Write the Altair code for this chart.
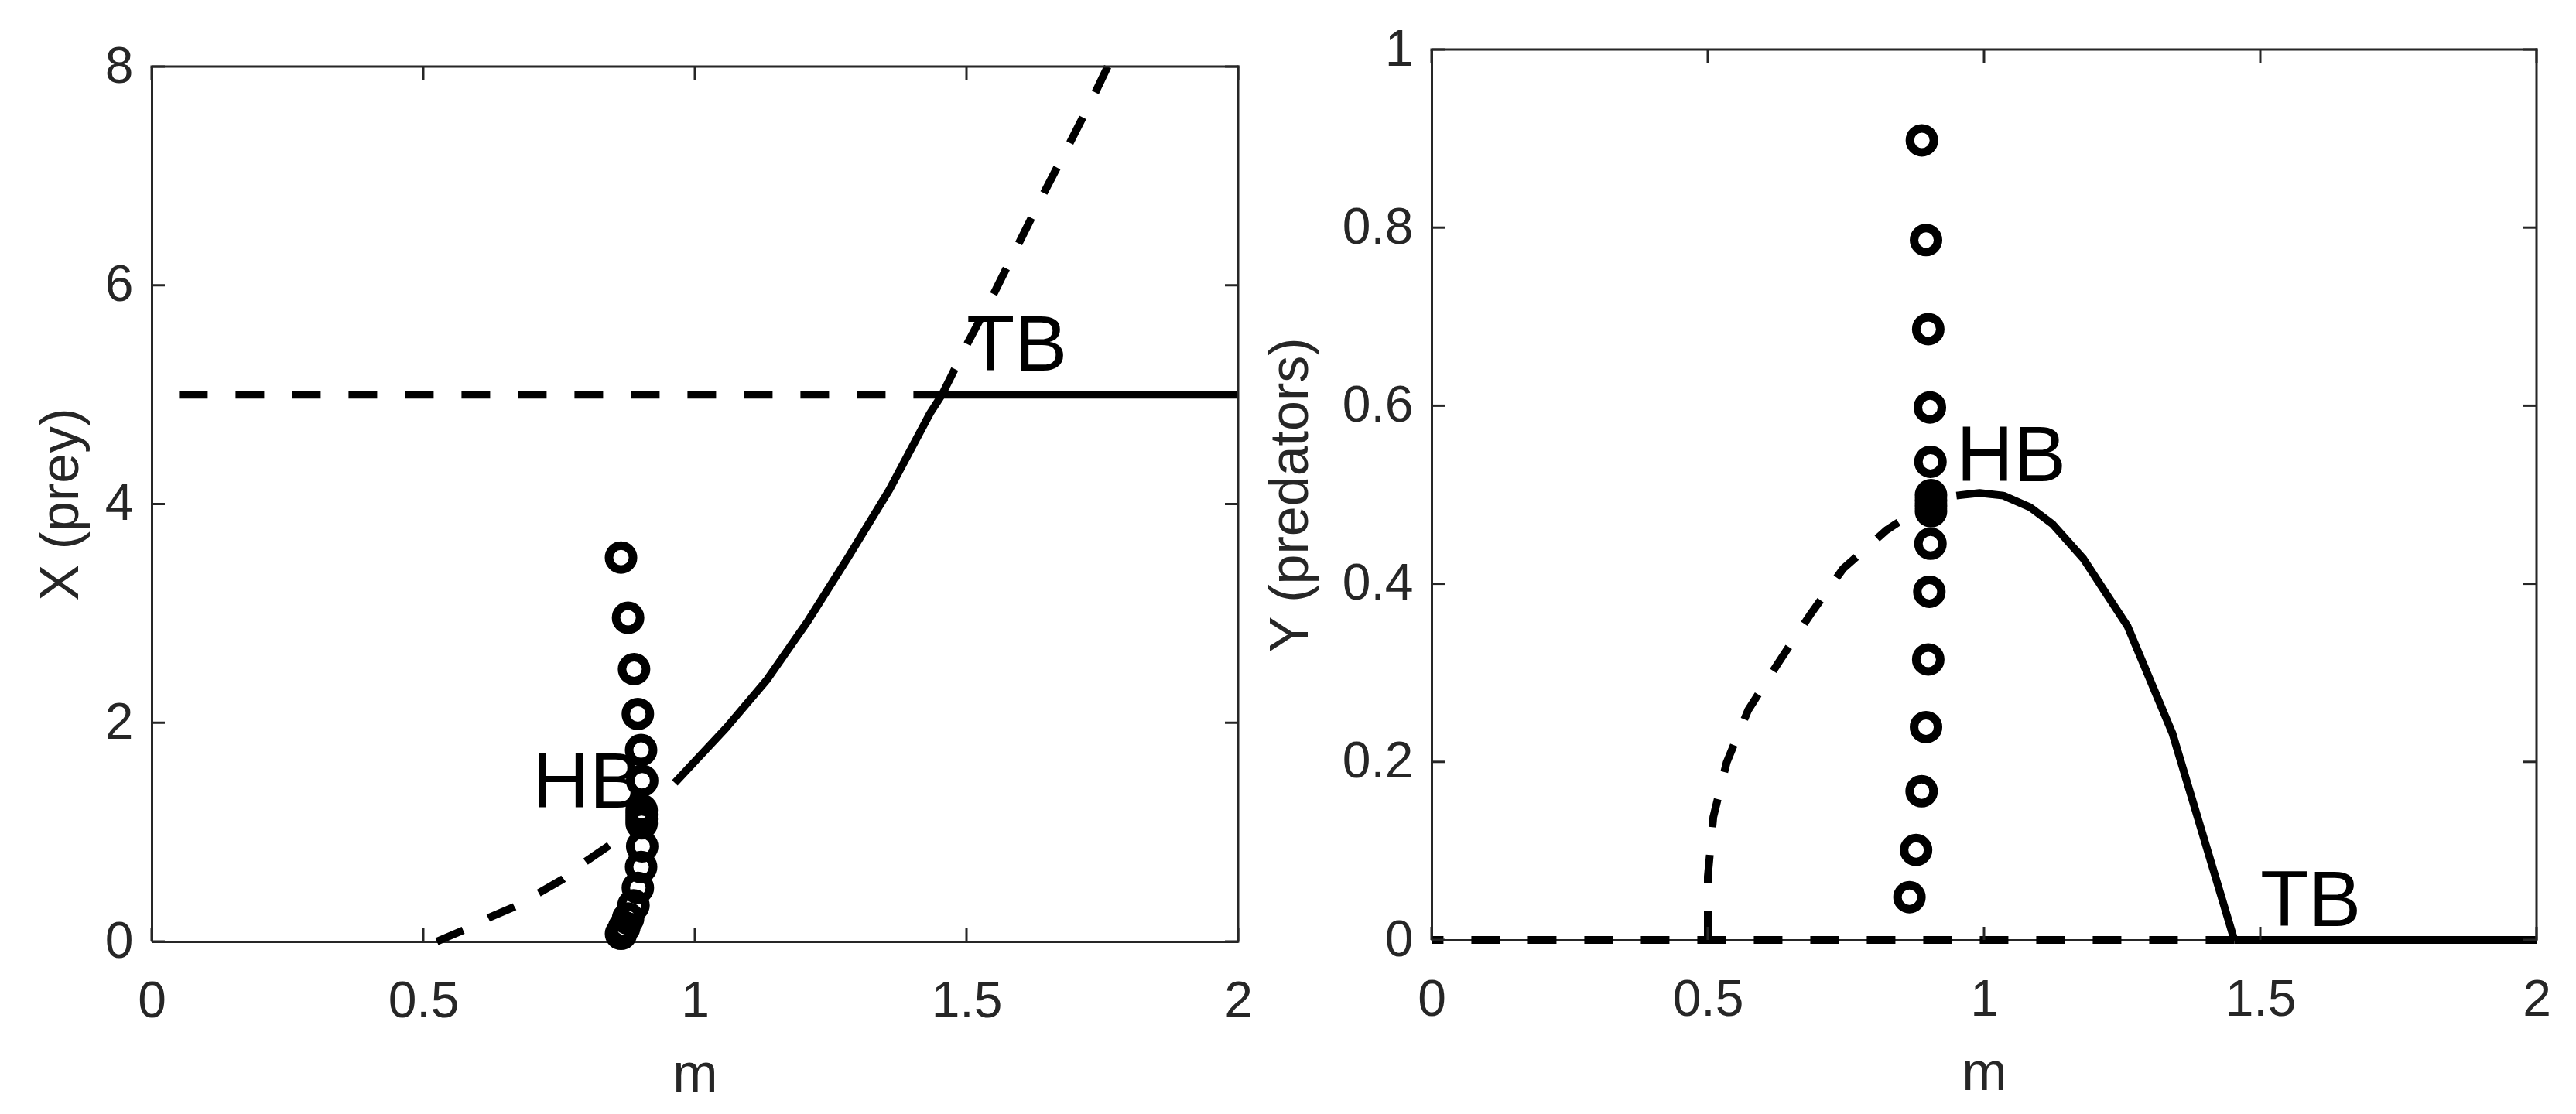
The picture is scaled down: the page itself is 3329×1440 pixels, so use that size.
import altair as alt
import pandas as pd

# ---------------- data ----------------
M_TICKS = [0, 0.5, 1, 1.5, 2]
X_TICKS = [0, 2, 4, 6, 8]
Y_TICKS = [0, 0.2, 0.4, 0.6, 0.8, 1]

# Left panel: prey X versus m
L_TRIV_DASH_M = [1.455, 0.0]          # X = K branch, unstable (drawn from TB to the left)
L_TRIV_DASH_X = [5.0, 5.0]
L_TRIV_SOLID_M = [1.455, 2.0]
L_TRIV_SOLID_X = [5.0, 5.0]
L_LOW_M = [0.525, 0.577, 0.622, 0.667, 0.715, 0.757, 0.800, 0.843]
L_LOW_X = [0.0, 0.11, 0.22, 0.316, 0.45, 0.57, 0.735, 0.88]
L_MID_M = [0.963, 1.058, 1.133, 1.208, 1.283, 1.358, 1.433, 1.455]
L_MID_X = [1.45, 1.955, 2.395, 2.93, 3.52, 4.13, 4.83, 5.0]
L_UP_M = [1.455, 1.502, 1.550, 1.595, 1.641, 1.688, 1.735, 1.760]
L_UP_X = [5.0, 5.47, 5.92, 6.37, 6.83, 7.28, 7.74, 8.0]
L_CYC_M = [0.864, 0.877, 0.888, 0.895, 0.901, 0.903, 0.902, 0.902, 0.902, 0.902,
           0.903, 0.901, 0.895, 0.887, 0.877, 0.870, 0.864]
L_CYC_X = [3.51, 2.96, 2.49, 2.08, 1.75, 1.47, 1.20, 1.16, 1.12, 1.08,
           0.87, 0.68, 0.49, 0.33, 0.21, 0.13, 0.07]
L_LABELS = ["HB", "TB"]
L_LAB_M = [0.701, 1.50]
L_LAB_X = [1.224, 5.22]

# Right panel: predators Y versus m
R_TRIV_DASH_M = [1.453, 0.0]
R_TRIV_DASH_Y = [0.0, 0.0]
R_TRIV_SOLID_M = [1.453, 2.0]
R_TRIV_SOLID_Y = [0.0, 0.0]
R_LOW_M = [0.500, 0.500, 0.510, 0.534, 0.573, 0.629, 0.685, 0.745, 0.823, 0.845]
R_LOW_Y = [0.0, 0.071, 0.138, 0.199, 0.258, 0.3125, 0.365, 0.417, 0.460, 0.469]
R_MID_M = [0.950, 0.992, 1.035, 1.083, 1.124, 1.180, 1.260, 1.341, 1.453]
R_MID_Y = [0.499, 0.502, 0.499, 0.486, 0.467, 0.428, 0.352, 0.232, 0.0]
R_CYC_M = [0.8875, 0.895, 0.899, 0.902, 0.903, 0.904, 0.904, 0.904, 0.904,
           0.903, 0.901, 0.899, 0.895, 0.887, 0.877, 0.865]
R_CYC_Y = [0.898, 0.786, 0.686, 0.598, 0.537, 0.4995, 0.4935, 0.4875, 0.4815,
           0.445, 0.391, 0.315, 0.239, 0.167, 0.101, 0.048]
R_LABELS = ["HB", "TB"]
R_LAB_M = [0.950, 1.50]
R_LAB_Y = [0.515, 0.016]

# ---------------- styling ----------------
FONT = "Liberation Sans"
AX = "#262626"
LW = 10
DASH = [37, 36]


def line_layer(ms, vs, xs, ys, xa, ya, dashed):
    df = pd.DataFrame({"m": ms, "v": vs, "i": list(range(len(ms)))})
    kw = dict(color="black", strokeWidth=LW, strokeCap="butt", strokeJoin="round")
    if dashed:
        kw["strokeDash"] = DASH
    return alt.Chart(df).mark_line(**kw).encode(
        x=alt.X("m:Q", scale=xs, axis=xa),
        y=alt.Y("v:Q", scale=ys, axis=ya),
        order=alt.Order("i:Q"),
    )


def panel(width, height, xs, ys, xa, ya, segs, cyc_m, cyc_v,
          labels, lab_m, lab_v, y_ticks):
    layers = [line_layer(ms, vs, xs, ys, xa, ya, d) for ms, vs, d in segs]

    def enc(ch):
        return ch.encode(x=alt.X("m:Q", scale=xs, axis=xa),
                         y=alt.Y("v:Q", scale=ys, axis=ya))

    circles = enc(alt.Chart(pd.DataFrame({"m": cyc_m, "v": cyc_v})).mark_point(
        shape="circle", filled=False, size=961, strokeWidth=11,
        color="black", opacity=1))
    texts = alt.Chart(pd.DataFrame({"m": lab_m, "v": lab_v, "t": labels})).mark_text(
        align="left", baseline="alphabetic", font=FONT, fontSize=102,
        color="black").encode(
        x=alt.X("m:Q", scale=xs, axis=xa),
        y=alt.Y("v:Q", scale=ys, axis=ya),
        text="t:N")

    x0, x1 = M_TICKS[0], M_TICKS[-1]
    y0, y1 = y_ticks[0], y_ticks[-1]
    top = alt.Chart(pd.DataFrame({"m": [x0], "m2": [x1], "v": [y1]})).mark_rule(
        color=AX, strokeWidth=3, strokeCap="square").encode(
        x=alt.X("m:Q", scale=xs, axis=xa), x2="m2:Q",
        y=alt.Y("v:Q", scale=ys, axis=ya))
    right = alt.Chart(pd.DataFrame({"m": [x1], "v": [y0], "v2": [y1]})).mark_rule(
        color=AX, strokeWidth=3, strokeCap="square").encode(
        x=alt.X("m:Q", scale=xs, axis=xa),
        y=alt.Y("v:Q", scale=ys, axis=ya), y2="v2:Q")

    nx, ny = len(M_TICKS), len(y_ticks)
    tick_kw = dict(size=17, thickness=3, color=AX, opacity=1)
    tb = enc(alt.Chart(pd.DataFrame({"m": M_TICKS, "v": [y0] * nx})).mark_tick(
        orient="vertical", yOffset=-8.5, **tick_kw))
    tt = enc(alt.Chart(pd.DataFrame({"m": M_TICKS, "v": [y1] * nx})).mark_tick(
        orient="vertical", yOffset=8.5, **tick_kw))
    tl = enc(alt.Chart(pd.DataFrame({"m": [x0] * ny, "v": y_ticks})).mark_tick(
        orient="horizontal", xOffset=8.5, **tick_kw))
    tr = enc(alt.Chart(pd.DataFrame({"m": [x1] * ny, "v": y_ticks})).mark_tick(
        orient="horizontal", xOffset=-8.5, **tick_kw))

    return alt.layer(*layers, circles, texts, top, right, tb, tt, tl, tr).properties(
        width=width, height=height)


# left panel
LW_W, LW_H = 1404, 1153
xs_l = alt.Scale(domain=[M_TICKS[0], M_TICKS[-1]], nice=False, zero=False)
ys_l = alt.Scale(domain=[X_TICKS[0], X_TICKS[-1]], nice=False, zero=False,
                 range=[LW_H, 22])
xa_l = alt.Axis(title="m", values=M_TICKS, format=".1~f", labelPadding=45, titlePadding=28)
ya_l = alt.Axis(title="X (prey)", values=X_TICKS, format="d", labelPadding=24, titlePadding=20)

left = panel(LW_W, LW_H, xs_l, ys_l, xa_l, ya_l,
             [(L_TRIV_DASH_M, L_TRIV_DASH_X, True),
              (L_TRIV_SOLID_M, L_TRIV_SOLID_X, False),
              (L_LOW_M, L_LOW_X, True),
              (L_MID_M, L_MID_X, False),
              (L_UP_M, L_UP_X, True)],
             L_CYC_M, L_CYC_X, L_LABELS, L_LAB_M, L_LAB_X, X_TICKS)

# right panel
RW_W, RW_H = 1428, 1151
xs_r = alt.Scale(domain=[M_TICKS[0], M_TICKS[-1]], nice=False, zero=False)
ys_r = alt.Scale(domain=[Y_TICKS[0], Y_TICKS[-1]], nice=False, zero=False)
xa_r = alt.Axis(title="m", values=M_TICKS, format=".1~f", labelPadding=45, titlePadding=28)
ya_r = alt.Axis(title="Y (predators)", values=Y_TICKS, format=".1~f", labelPadding=24,
                titlePadding=30)

right = panel(RW_W, RW_H, xs_r, ys_r, xa_r, ya_r,
              [(R_TRIV_DASH_M, R_TRIV_DASH_Y, True),
               (R_TRIV_SOLID_M, R_TRIV_SOLID_Y, False),
               (R_LOW_M, R_LOW_Y, True),
               (R_MID_M, R_MID_Y, False)],
              R_CYC_M, R_CYC_Y, R_LABELS, R_LAB_M, R_LAB_Y, Y_TICKS)

chart = alt.hconcat(left, right, spacing=250, bounds="flush").properties(
    padding={"left": 36, "top": 23, "right": 5, "bottom": 5},
    background="white",
).configure_view(stroke=None).configure_axis(
    labelFont=FONT, titleFont=FONT, labelFontSize=66, titleFontSize=70,
    labelColor=AX, titleColor=AX, titleFontWeight="normal",
    domainColor=AX, domainWidth=3, ticks=False, tickSize=0, grid=False,
    labelFlush=False, labelOverlap=False,
)

chart.save("out.html", embed_options={"renderer": "svg", "actions": False})
